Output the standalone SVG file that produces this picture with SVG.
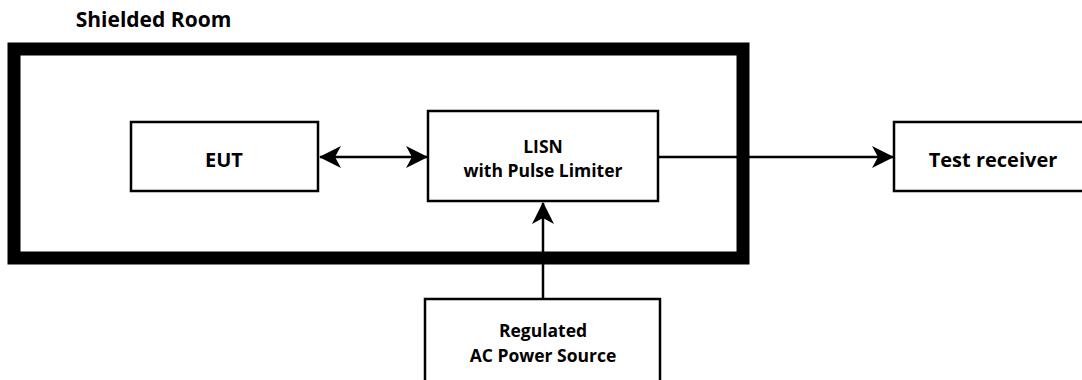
<svg xmlns="http://www.w3.org/2000/svg" width="1082" height="380" viewBox="0 0 1082 380">
<style>
.box{fill:#fff;stroke:#000;stroke-width:2.5}
.lbl{font-family:"Open Sans","Noto Sans",sans-serif;font-weight:bold;fill:#000;text-anchor:middle}
.big{font-size:20px}
.mid{font-size:17.5px}
.ln{stroke:#000;stroke-width:2.5;fill:none}
</style>
<defs>
<marker id="ah" viewBox="0 0 22 22" refX="21" refY="11" markerWidth="22" markerHeight="22" markerUnits="userSpaceOnUse" orient="auto-start-reverse">
<path d="M0,0 L22,11 L0,22 L6,11 Z" fill="#000"/>
</marker>
</defs>
<g id="shielded-room">
<rect x="14" y="49" width="729" height="209" fill="none" stroke="#000" stroke-width="13"/>
<text class="lbl" x="153.5" y="27" font-size="21">Shielded Room</text>
</g>
<g id="connectors">
<line class="ln" x1="320" y1="157" x2="427" y2="157" marker-start="url(#ah)" marker-end="url(#ah)"/>
<line class="ln" x1="658" y1="157" x2="893" y2="157" marker-end="url(#ah)"/>
<line class="ln" x1="543" y1="299" x2="543" y2="203" marker-end="url(#ah)"/>
</g>
<g id="eut">
<rect class="box" x="131" y="122" width="187" height="69"/>
<text class="lbl big" x="224" y="167">EUT</text>
</g>
<g id="lisn">
<rect class="box" x="428" y="111" width="230" height="90"/>
<text class="lbl mid" x="543" y="153">LISN</text>
<text class="lbl mid" x="543" y="177">with Pulse Limiter</text>
</g>
<g id="test-receiver">
<rect class="box" x="894" y="122" width="200" height="69"/>
<text class="lbl big" x="993" y="167">Test receiver</text>
</g>
<g id="power-source">
<rect class="box" x="425" y="299" width="235" height="100"/>
<text class="lbl mid" x="543" y="337">Regulated</text>
<text class="lbl mid" x="543" y="362">AC Power Source</text>
</g>
</svg>
